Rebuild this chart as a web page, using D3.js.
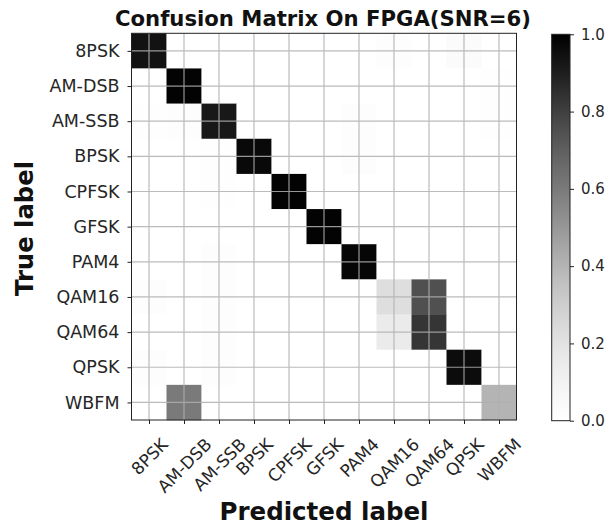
<!DOCTYPE html>
<html><head><meta charset="utf-8">
<script src="https://cdn.jsdelivr.net/npm/d3@7"></script>
<style>body{margin:0;background:#fff}svg{display:block}</style>
</head><body><svg id="c" width="616" height="525"></svg>
<script>
const labels = ["8PSK","AM-DSB","AM-SSB","BPSK","CPFSK","GFSK","PAM4","QAM16","QAM64","QPSK","WBFM"];
const row8PSK  = [0.94,0,0,0,0,0,0,0.02,0,0.03,0];
const rowAMDSB = [0,0.99,0,0,0,0,0,0,0,0,0.01];
const rowAMSSB = [0.01,0.015,0.92,0,0,0,0.015,0,0,0,0.01];
const rowBPSK  = [0,0,0.01,0.97,0,0,0.015,0,0,0,0];
const rowCPFSK = [0,0,0.006,0,0.99,0,0,0,0,0,0];
const rowGFSK  = [0,0,0,0,0,0.99,0,0,0,0,0];
const rowPAM4  = [0,0,0.015,0,0,0,0.98,0,0,0,0];
const rowQAM16 = [0.02,0,0.015,0,0,0,0,0.22,0.75,0,0];
const rowQAM64 = [0,0,0.015,0,0,0,0,0.15,0.83,0,0];
const rowQPSK  = [0.02,0,0.015,0,0,0,0,0,0,0.96,0];
const rowWBFM  = [0,0.6,0,0,0,0,0,0,0,0,0.4];
const matrix = [row8PSK,rowAMDSB,rowAMSSB,rowBPSK,rowCPFSK,rowGFSK,rowPAM4,rowQAM16,rowQAM64,rowQPSK,rowWBFM];
const cbTicks = [0,0.2,0.4,0.6,0.8,1.0];

const svg = d3.select("#c");
const L=131.5, R=516.5, T=33.3, B=420;
const x = d3.scaleBand().domain(labels).range([L,R]).padding(0);
const y = d3.scaleBand().domain(labels).range([T,B]).padding(0);
const color = v => d3.interpolateGreys(v);

const cells=[];
matrix.forEach((r,i)=>r.forEach((v,j)=>cells.push({t:labels[i],p:labels[j],v})));
svg.append("g").selectAll("rect").data(cells).join("rect")
  .attr("x",d=>x(d.p)).attr("y",d=>y(d.t))
  .attr("width",x.bandwidth()+0.3).attr("height",y.bandwidth()+0.3)
  .attr("fill",d=>color(d.v));

// grid at cell centres
const g = svg.append("g").attr("stroke","#b0b0b0").attr("stroke-width",1.2).attr("opacity",0.85);
labels.forEach(l=>{
  const cx=x(l)+x.bandwidth()/2, cy=y(l)+y.bandwidth()/2;
  g.append("line").attr("x1",cx).attr("x2",cx).attr("y1",T).attr("y2",B);
  g.append("line").attr("x1",L).attr("x2",R).attr("y1",cy).attr("y2",cy);
});

// frame
svg.append("rect").attr("x",L).attr("y",T).attr("width",R-L).attr("height",B-T)
  .attr("fill","none").attr("stroke","#222").attr("stroke-width",1);

// axes
const xAxis = d3.axisBottom(d3.scalePoint().domain(labels).range([L+x.bandwidth()/2,R-x.bandwidth()/2])).tickSize(4).tickPadding(3);
const yAxis = d3.axisLeft(d3.scalePoint().domain(labels).range([T+y.bandwidth()/2,B-y.bandwidth()/2])).tickSize(4).tickPadding(8);
const gx = svg.append("g").attr("transform",`translate(0,${B})`).call(xAxis);
const gy = svg.append("g").attr("transform",`translate(${L},0)`).call(yAxis);
[gx,gy].forEach(a=>{a.select(".domain").remove();a.selectAll("line").attr("stroke","#222");
  a.selectAll("text").attr("font-family","DejaVu Sans").attr("fill","#262626");});
gy.selectAll("text").attr("font-size",17.5);
const fx=17;
gx.selectAll("text").attr("font-size",fx).attr("text-anchor","middle").attr("dy","0.35em")
  .attr("y",0)
  .attr("transform",function(){
    const w=this.getComputedTextLength();
    const h=(w+0.73*fx)/Math.SQRT2;
    return `translate(0,${17+h/2}) rotate(-45)`;
  });

// colorbar
const cbX=551.7, cbW=18.3, cbT=34.3, cbB=420.7;
const defs = svg.append("defs");
const grad = defs.append("linearGradient").attr("id","gr").attr("x1",0).attr("y1",1).attr("x2",0).attr("y2",0);
d3.range(0,1.0001,0.05).forEach(t=>grad.append("stop").attr("offset",t).attr("stop-color",color(t)));
svg.append("rect").attr("x",cbX).attr("y",cbT).attr("width",cbW).attr("height",cbB-cbT)
  .attr("fill","url(#gr)").attr("stroke","#222").attr("stroke-width",1);
const cy = d3.scaleLinear().domain([0,1]).range([cbB,cbT]);
const gc = svg.append("g").attr("transform",`translate(${cbX+cbW},0)`)
  .call(d3.axisRight(cy).tickValues(cbTicks).tickFormat(d3.format(".1f")).tickSize(4).tickPadding(7));
gc.select(".domain").remove();
gc.selectAll("line").attr("stroke","#222");
gc.selectAll("text").attr("font-family","DejaVu Sans").attr("font-size",15).attr("fill","#262626");

// titles
svg.append("text").attr("x",323).attr("y",26).attr("text-anchor","middle")
  .attr("font-family","DejaVu Sans").attr("font-weight","bold").attr("font-size",21.2).attr("fill","#111")
  .text("Confusion Matrix On FPGA(SNR=6)");
svg.append("text").attr("transform","translate(33,228.5) rotate(-90)").attr("text-anchor","middle")
  .attr("font-family","DejaVu Sans").attr("font-weight","bold").attr("font-size",24.3).attr("fill","#111")
  .text("True label");
svg.append("text").attr("x",324).attr("y",520).attr("text-anchor","middle")
  .attr("font-family","DejaVu Sans").attr("font-weight","bold").attr("font-size",24.5).attr("fill","#111")
  .text("Predicted label");
</script></body></html>
